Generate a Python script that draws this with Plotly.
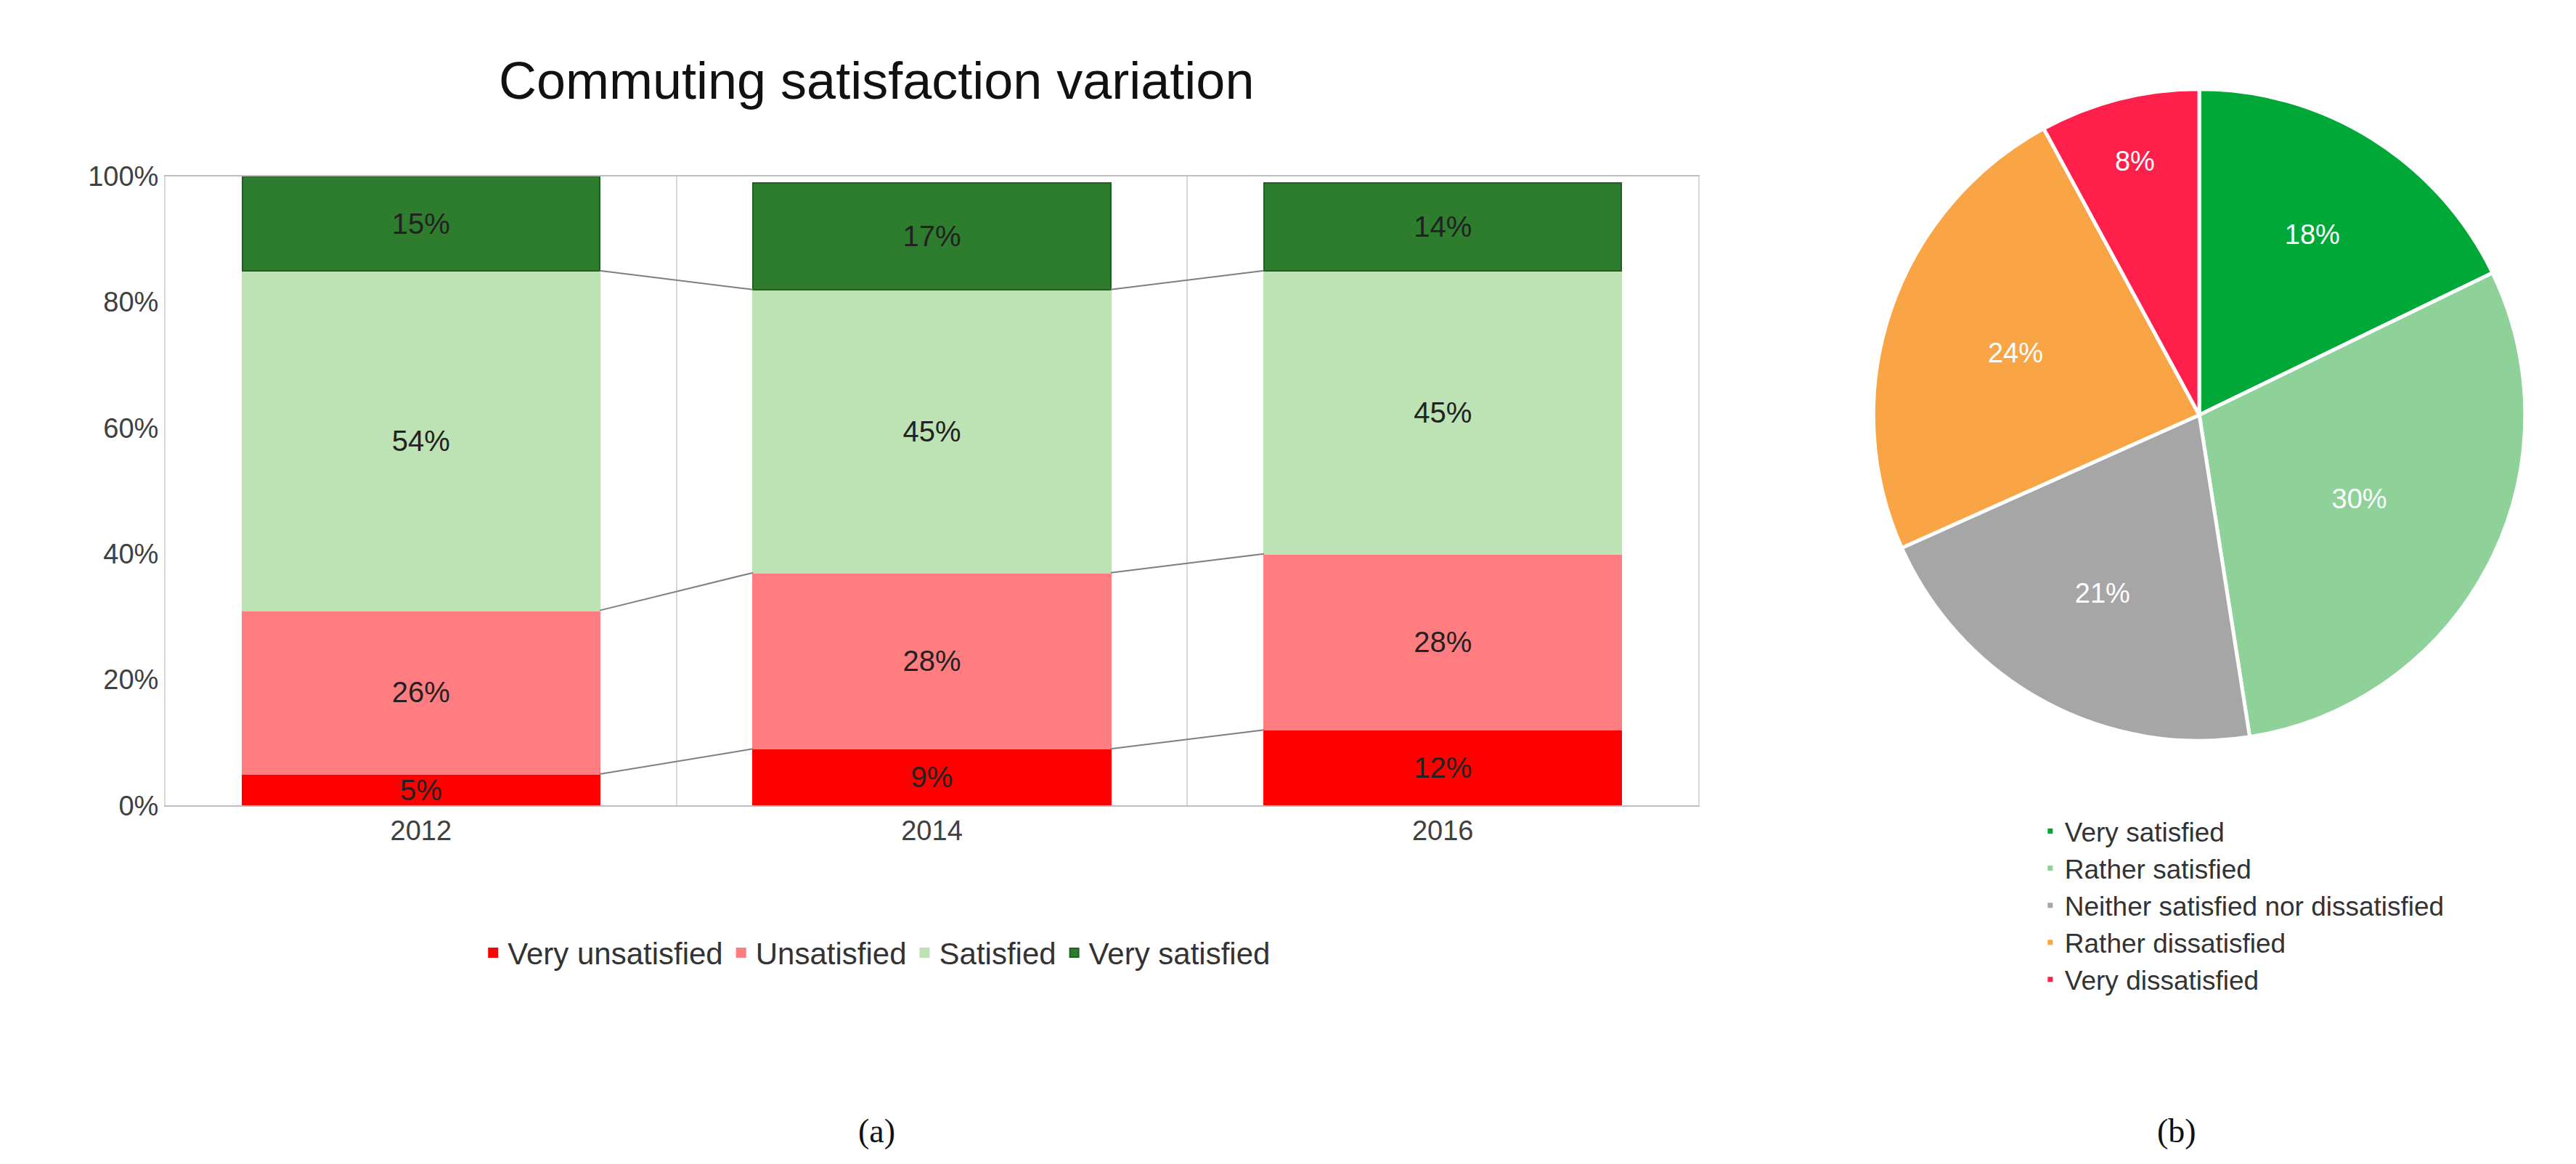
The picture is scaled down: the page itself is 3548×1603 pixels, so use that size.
import plotly.graph_objects as go

### Data ###
years = ["2012", "2014", "2016"]
very_unsatisfied = [5, 9, 12]
unsatisfied = [26, 28, 28]
satisfied = [54, 45, 45]
very_satisfied = [15, 17, 14]

pie_labels = ["Very satisfied", "Rather satisfied", "Neither satisfied nor dissatisfied",
              "Rather dissatisfied", "Very dissatisfied"]
pie_values = [18, 30, 21, 24, 8]

### Styles ###
FONT = "Liberation Sans Narrow, Arial Narrow, Liberation Sans, sans-serif"
bar_series = [
    ("Very unsatisfied", very_unsatisfied, "#ff0000", "#ff0000"),
    ("Unsatisfied", unsatisfied, "#ff7c80", "#ff7c80"),
    ("Satisfied", satisfied, "#bde3b5", "#bde3b5"),
    ("Very satisfied", very_satisfied, "#2e7d2e", "#1f5f1f"),
]
pie_colors = ["#00a838", "#8ed29a", "#a6a6a6", "#f9a545", "#ff1f4b"]
BAR_W = 0.7
xpos = list(range(len(years)))

fig = go.Figure()

# stacked bars
for name, vals, col, line in bar_series:
    fig.add_trace(go.Bar(
        x=xpos, y=vals, name=name, width=BAR_W,
        marker=dict(color=col, line=dict(color=line, width=2)),
        text=[f"{v}%" for v in vals], textposition="inside", insidetextanchor="middle",
        textfont=dict(size=40, color="#222222", family=FONT),
        constraintext="none", cliponaxis=False,
    ))

# connector lines between series boundaries
cum = [0] * len(years)
for name, vals, col, line in bar_series[:-1]:
    cum = [c + v for c, v in zip(cum, vals)]
    for i in range(len(years) - 1):
        fig.add_trace(go.Scatter(
            x=[xpos[i] + BAR_W / 2, xpos[i + 1] - BAR_W / 2], y=[cum[i], cum[i + 1]],
            mode="lines", line=dict(color="#7f7f7f", width=2), showlegend=False,
            hoverinfo="skip"))

# pie
fig.add_trace(go.Pie(
    labels=pie_labels, values=pie_values, sort=False, direction="clockwise",
    rotation=0, marker=dict(colors=pie_colors, line=dict(color="white", width=5)),
    texttemplate="%{value}%", textposition="inside",
    insidetextorientation="horizontal",
    textfont=dict(size=38, color="white", family=FONT),
    domain=dict(x=[0.722, 0.981], y=[0.365, 0.94]), legend="legend2",
))

fig.update_layout(
    width=3548, height=1603, barmode="stack", bargap=0.3,
    paper_bgcolor="white", plot_bgcolor="white",
    margin=dict(l=0, r=0, t=0, b=0),
    font=dict(family=FONT, color="#404040"),
    uniformtext=dict(minsize=38, mode="show"),
    title=dict(text="Commuting satisfaction variation", x=0.338, xanchor="center",
               y=0.936, yanchor="middle", font=dict(size=72, color="#111111", family=FONT)),
    xaxis=dict(domain=[0.062, 0.657], range=[-0.5, 2.5], tickvals=xpos, ticktext=years,
               showgrid=False, showline=True, linecolor="#bfbfbf", linewidth=2, mirror=True,
               tickfont=dict(size=38, color="#404040"), ticks="",
               minor=dict(tick0=-0.5, dtick=1, showgrid=True, gridcolor="#d9d9d9", gridwidth=2),
               zeroline=False),
    yaxis=dict(domain=[0.308, 0.863], range=[0, 100], dtick=20, ticksuffix="%",
               showgrid=False, zeroline=False, showline=True, linecolor="#d9d9d9",
               linewidth=2, mirror=True, tickfont=dict(size=38, color="#404040")),
    legend=dict(orientation="h", x=0.338, xanchor="center", y=0.178, yanchor="middle",
                font=dict(size=42, color="#333333"), traceorder="normal"),
    legend2=dict(x=0.788, xanchor="left", y=0.305, yanchor="top",
                 font=dict(size=37, color="#333333"), tracegroupgap=0),
    annotations=[
        dict(text="(a)", x=0.338, y=0.021, xref="paper", yref="paper", showarrow=False,
             yanchor="middle", font=dict(size=46, color="#111111", family="Liberation Serif, serif")),
        dict(text="(b)", x=0.851, y=0.021, xref="paper", yref="paper", showarrow=False,
             yanchor="middle", font=dict(size=46, color="#111111", family="Liberation Serif, serif")),
    ],
)

fig.write_html("out.html")
